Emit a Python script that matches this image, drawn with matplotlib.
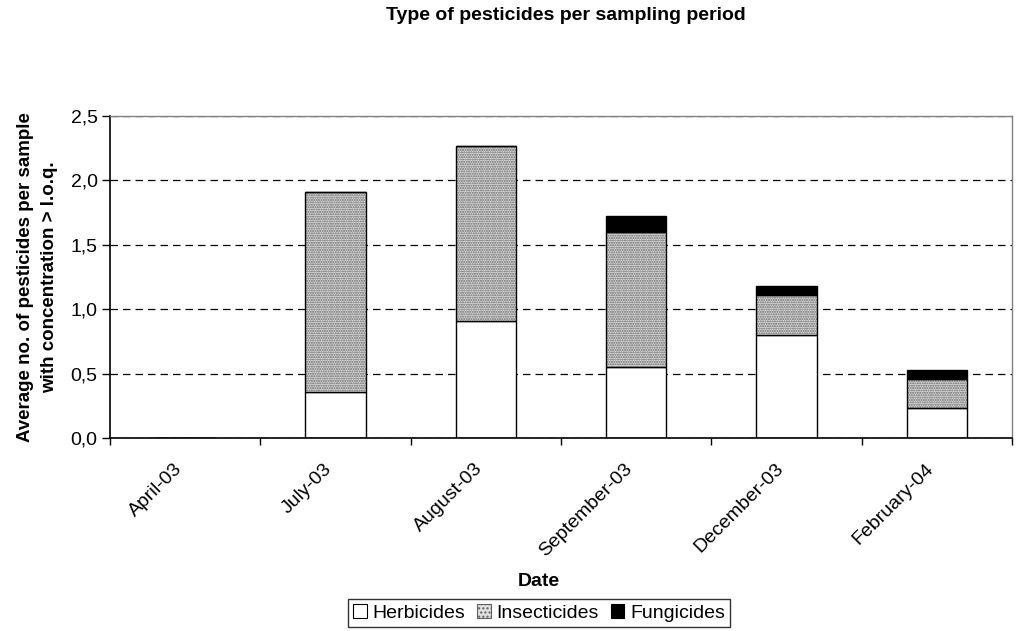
import numpy as np
import matplotlib
matplotlib.use("Agg")
import matplotlib.pyplot as plt
import matplotlib.transforms as mtransforms
from matplotlib.patches import Patch

plt.rcParams['font.family'] = ['Liberation Sans', 'DejaVu Sans']

dates = ['April-03', 'July-03', 'August-03', 'September-03', 'December-03', 'February-04']
herbicides = [0.0, 0.36, 0.91, 0.55, 0.80, 0.23]
insecticides = [0.0, 1.55, 1.36, 1.05, 0.31, 0.23]
fungicides = [0.0, 0.0, 0.0, 0.12, 0.07, 0.07]

fig = plt.figure(figsize=(10.16, 6.31), dpi=100)
ax = fig.add_axes([110 / 1016, 1 - 438 / 631, 902 / 1016, 322 / 631])

x = np.arange(len(dates))
w = 0.4
herb = np.array(herbicides)
ins = np.array(insecticides)
fung = np.array(fungicides)

ax.set_axisbelow(True)
ax.yaxis.grid(True, linestyle=(0, (6, 4)), color='black', linewidth=0.9)

ax.bar(x, herb, w, color='white', edgecolor='black', linewidth=1.0, zorder=2)
# insecticides: dotted texture, then black outline on top
ax.bar(x, ins, w, bottom=herb, color='#e0e0e0', edgecolor='#606060',
       hatch='.......', linewidth=0, zorder=2)
ax.bar(x, ins, w, bottom=herb, fill=False, edgecolor='black', linewidth=1.0, zorder=3)
ax.bar(x, fung, w, bottom=herb + ins, color='black', edgecolor='black', linewidth=1.0, zorder=3)

ax.set_xlim(-0.5, len(dates) - 0.5)
ax.set_ylim(0, 2.5)
yt = np.arange(0, 2.51, 0.5)
ax.set_yticks(yt)
ax.set_yticklabels([f'{v:.1f}'.replace('.', ',') for v in yt], fontsize=14)
ax.set_xticks(np.arange(len(dates) + 1) - 0.5, minor=False)
ax.set_xticklabels([])
ax.set_xticks(x, minor=True)
ax.set_xticklabels(dates, minor=True, rotation=45, ha='right', rotation_mode='anchor', fontsize=14)
ax.tick_params(axis='x', which='minor', length=0, pad=16)
ax.tick_params(axis='x', which='major', length=5, width=1)
ax.tick_params(axis='y', length=6, width=1, pad=3)

shift = mtransforms.ScaledTranslation(-12 / 100, 0, fig.dpi_scale_trans)
for lab in ax.get_xticklabels(minor=True):
    lab.set_transform(lab.get_transform() + shift)

for s in ['top', 'right']:
    ax.spines[s].set_color('#808080')
    ax.spines[s].set_linewidth(1.0)
for s in ['left', 'bottom']:
    ax.spines[s].set_linewidth(1.2)

ax.set_ylabel('Average no. of pesticides per sample\nwith concentration > l.o.q.',
              fontsize=13.5, fontweight='bold', labelpad=9, linespacing=1.5)

fig.text(566 / 1016, 1 - 16 / 631, 'Type of pesticides per sampling period',
         ha='center', va='center', fontsize=14, fontweight='bold')
fig.text(539 / 1016, 1 - 581 / 631, 'Date', ha='center', va='center',
         fontsize=14, fontweight='bold')

handles = [Patch(facecolor='white', edgecolor='black', linewidth=0.8),
           Patch(facecolor='#e0e0e0', edgecolor='#606060', hatch='....', linewidth=0.8),
           Patch(facecolor='black', edgecolor='black', linewidth=0.8)]
leg = fig.legend(handles, ['Herbicides', 'Insecticides', 'Fungicides'], ncol=3,
                 loc='center', bbox_to_anchor=(539 / 1016, 1 - 613 / 631),
                 fontsize=14, frameon=True, fancybox=False, edgecolor='black',
                 handlelength=0.7, handleheight=0.7, handletextpad=0.3,
                 columnspacing=0.6, borderpad=0.25, borderaxespad=0)
leg.get_frame().set_linewidth(1.0)

fig.savefig('out.png', dpi=100)
